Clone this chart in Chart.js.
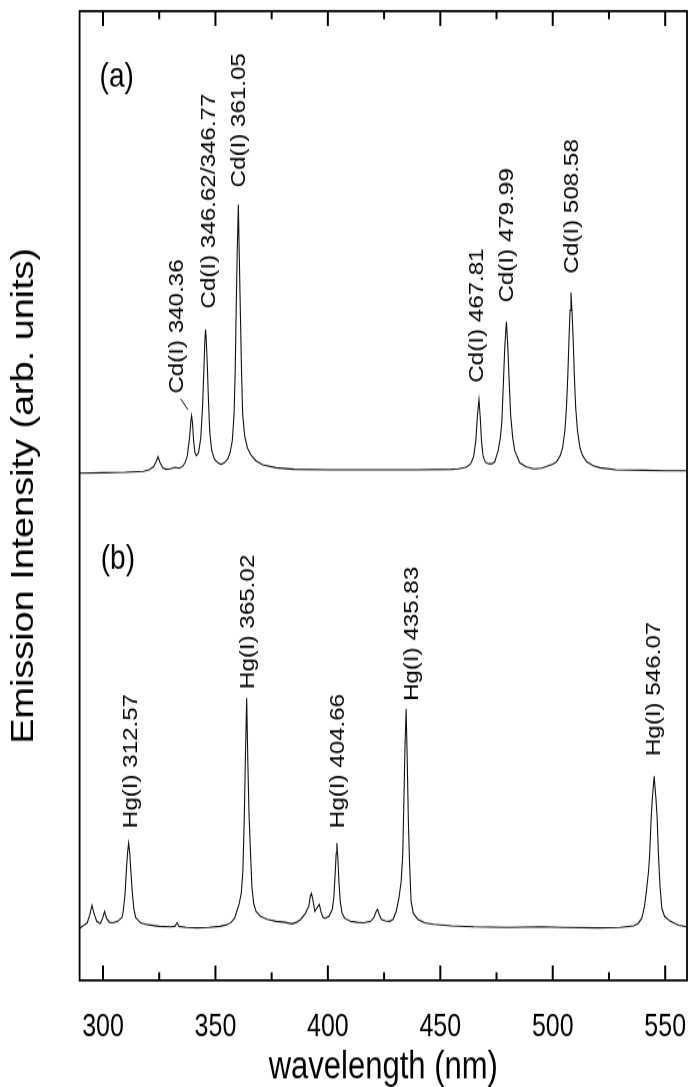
<!DOCTYPE html>
<html>
<head>
<meta charset="utf-8">
<script src="https://cdn.jsdelivr.net/npm/chart.js@4.4.1/dist/chart.umd.min.js"></script>
<style>
  html, body { margin: 0; padding: 0; background: #fff; width: 690px; height: 1087px; }
  #outer { width: 690px; height: 1087px; overflow: hidden; position: relative; }
  #wrap { position: absolute; left: 0; top: 0; width: 690px; height: 877px; transform: scale(1, 1.2394); transform-origin: 0 0; }
</style>
</head>
<body>
<div id="outer"><div id="wrap"><canvas id="c" width="690" height="877"></canvas></div></div>
<script>
// ---- data (wavelength in nm, intensity in arbitrary units) ----
const cdWave = [289.6,300,310,318,320.5,322.5,323.8,324.5,325.2,326.5,328,330,332,334,335.5,336.5,337.5,338.5,339.1,339.4,339.8,340.3,340.9,341.5,342.5,343.5,344.3,344.9,345.3,345.6,345.9,346.4,346.9,347.5,348.3,349.5,351,352.5,354,355.5,356.5,357.5,358.3,358.8,359.2,359.7,360.2,360.6,361.1,361.6,362.1,363,364.2,366,368,371,377,385,400,420,440,455,458,461.5,463.5,464.8,465.8,466.5,467.2,467.8,468.3,469.0,470.0,471.5,473,474.2,475.7,476.7,477.4,478.0,478.7,479.4,480.0,480.7,481.3,482.2,483.1,485.3,488,491.5,495,497,500,501.7,503.3,504.4,505.4,506.1,506.7,507.2,507.7,508.1,508.6,509.1,509.6,510.2,511,512.1,513.3,515.1,518,521,528,540,550,559.7];
const cdInt = [506.5,507,507.5,508.5,510,513,519,523,518,512,510.5,511,512.5,511.5,513.5,517,524,542,559,564,557,539,527,524,527,542,574,612,639,650,641,614,579,547,530,521,517,515.5,517,521,527,539,566,609,666,729,775,724,666,609,566,544,532,524,519,515,512,510.5,510,510,510,510.5,511,512.5,516,523,539,564,580,561,539,524,517.5,516,516,518,529,542,559,594,634,658,634,594,564,542,529,517,513,511,511.5,513,515.5,518,524,532,549,572,604,639,669,687,667,639,604,572,549,532,524,518,514,512,510,509.5,509,509];

const hgWave = [289.6,291.5,293,294.2,295.1,296,297.2,298.8,299.8,300.7,301.6,302.8,304.5,306.5,308.5,309,309.8,310.5,311,311.4,311.9,312.4,313,313.7,314.5,316.7,320,325,330,332,332.9,333.8,337,342,347,352,355,357,358.5,359.5,360.5,361.5,362.2,362.8,363.3,363.9,364.4,364.9,365.4,366.2,367,368,370,373,377,381,384,386,388,390,391.5,392.2,392.7,393.3,394.2,394.8,396.2,396.9,397.8,398.8,400.5,402,402.7,403.3,403.7,404.0,404.4,404.9,405.5,406.3,407.5,410,413,416,419,420.5,421.5,422.1,422.8,423.8,425.5,427.5,429,430.4,431.6,432.6,433.3,433.8,434.3,434.8,435.3,435.8,436.3,437,438,440,443,447,455,465,480,495,505,520,530,536,538,539.6,540.8,541.8,542.6,543.1,543.7,544.2,545.1,545.9,546.4,547.0,547.7,548.5,549.7,552.3,556,559.7];
const hgInt = [52,55,57.5,66,75,67,59,57,62,69,62,58,57.5,59,63,69,86,114,129,137,127,109,89,72,63,57.5,55.5,54,53.5,54,57.5,54,53,52.5,53,54,55.5,58,62,69,76,87,109,159,219,282,219,169,139,94,77,69,64,61,59,58,56.5,58,61,67,74,84,87,81,69,71,76,69,63,62,64,71,84,109,127,137,124,99,79,67,62,59,58,57.5,59,63,69,71,66,61,59.5,59,61,69,82,99,126,179,234,271,219,159,119,79,67,61,57.5,56,54.5,53.5,53,53.5,53,52.5,53,54.5,57,62,74,92,109,126,159,179,204,181,164,126,94,72,64,59,55,53.5];

// x-axis tick marks (major every 50 nm carry labels, minor every 25 nm)
const majorTicks = [300,350,400,450,500,550];
const minorTicks = [325,375,425,475,525];

// peak annotations: text, wavelength position, intensity position (start of the vertical text)
const peakLabels = ["Cd(I) 340.36","Cd(I) 346.62/346.77","Cd(I) 361.05","Cd(I) 467.81","Cd(I) 479.99","Cd(I) 508.58","Hg(I) 312.57","Hg(I) 365.02","Hg(I) 404.66","Hg(I) 435.83","Hg(I) 546.07"];
const peakLabelWave = [333.1,347.3,360.8,466.6,480.0,508.8,312.6,364.7,404.8,437.7,545.5];
const peakLabelInt = [586,671,792,597,677,706,152,291,152,279,224];
const leaderWave = [334.5,337.8];
const leaderInt = [581,570];
const panelLabels = ["(a)","(b)"];
const panelWave = [298.5,299];
const panelInt = [902,421];

const FONT = "'Liberation Sans', Arial, Helvetica, sans-serif";
Chart.defaults.font.family = FONT;
Chart.defaults.color = '#000';

const annot = {
  id: 'annot',
  afterDraw(chart) {
    const ctx = chart.ctx, a = chart.chartArea;
    const xs = chart.scales.x, ys = chart.scales.y;
    ctx.save();
    ctx.strokeStyle = '#000';
    ctx.fillStyle = '#000';
    ctx.lineWidth = 1.8;
    ctx.strokeRect(a.left, a.top, a.right - a.left, a.bottom - a.top);
    const drawTick = (v, len) => {
      const px = xs.getPixelForValue(v);
      ctx.fillRect(px - 1, a.bottom - len, 2, len);
      ctx.fillRect(px - 1, a.top, 2, len);
    };
    majorTicks.forEach(v => drawTick(v, 12));
    minorTicks.forEach(v => drawTick(v, 6.5));
    ctx.lineWidth = 1;
    ctx.beginPath();
    ctx.moveTo(xs.getPixelForValue(leaderWave[0]), ys.getPixelForValue(leaderInt[0]));
    ctx.lineTo(xs.getPixelForValue(leaderWave[1]), ys.getPixelForValue(leaderInt[1]));
    ctx.stroke();
    ctx.font = '19.5px ' + FONT;
    ctx.textAlign = 'left';
    ctx.textBaseline = 'middle';
    peakLabels.forEach((s, i) => {
      ctx.save();
      ctx.translate(xs.getPixelForValue(peakLabelWave[i]), ys.getPixelForValue(peakLabelInt[i]));
      ctx.rotate(-Math.PI / 2);
      ctx.fillText(s, 0, 0);
      ctx.restore();
    });
    ctx.font = '28px ' + FONT;
    panelLabels.forEach((s, i) => {
      ctx.fillText(s, xs.getPixelForValue(panelWave[i]), ys.getPixelForValue(panelInt[i]));
    });
    ctx.restore();
  }
};

new Chart(document.getElementById('c'), {
  type: 'line',
  data: {
    datasets: [
      { label: 'Cd', data: cdWave.map((w, i) => ({x: w, y: cdInt[i]})), borderColor: '#111', borderWidth: 1.1, pointRadius: 0, tension: 0, fill: false },
      { label: 'Hg', data: hgWave.map((w, i) => ({x: w, y: hgInt[i]})), borderColor: '#111', borderWidth: 1.1, pointRadius: 0, tension: 0, fill: false }
    ]
  },
  options: {
    responsive: false,
    animation: false,
    devicePixelRatio: 1,
    layout: { padding: { left: 2, right: 3, top: 9, bottom: 0 } },
    plugins: { legend: { display: false }, tooltip: { enabled: false } },
    scales: {
      x: {
        type: 'linear', position: 'bottom', min: 289.6, max: 559.7,
        ticks: { stepSize: 25, includeBounds: false, autoSkip: false, maxRotation: 0, padding: 2, color: '#000', font: { size: 25 },
                 callback: v => (majorTicks.includes(v) ? String(v) : '') },
        grid: { display: true, drawOnChartArea: false, drawTicks: true, tickLength: 21, color: 'rgba(0,0,0,0)' },
        border: { display: false },
        title: { display: true, text: 'wavelength (nm)', color: '#000', font: { size: 31, lineHeight: 1.0 }, padding: { top: -0.5, bottom: 0.5 } }
      },
      y: {
        type: 'linear', min: 0, max: 968,
        ticks: { display: false },
        grid: { display: false, drawTicks: false },
        border: { display: false },
        title: { display: true, text: 'Emission Intensity (arb. units)', color: '#000', font: { size: 30.5 }, padding: { top: 4, bottom: 37 } }
      }
    }
  },
  plugins: [annot]
});
</script>
</body>
</html>
